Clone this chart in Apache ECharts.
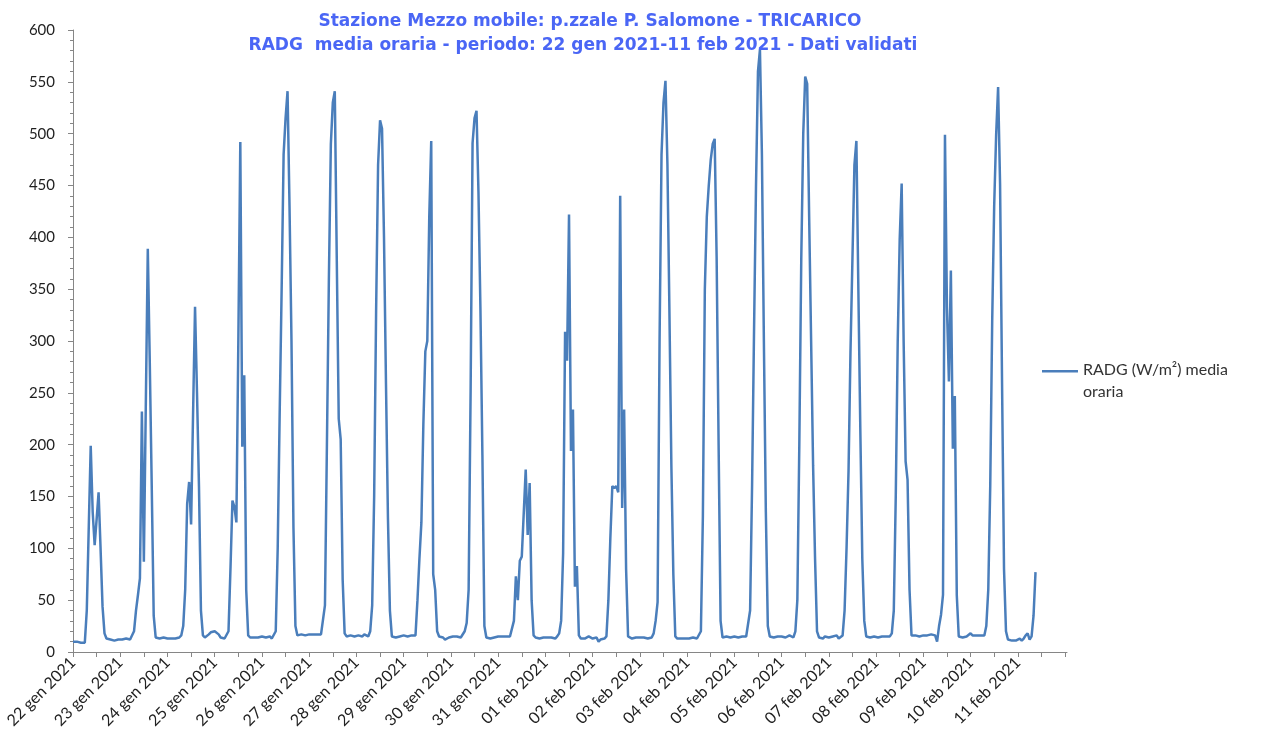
<!DOCTYPE html>
<html>
<head>
<meta charset="utf-8">
<script src="https://cdn.jsdelivr.net/npm/echarts@6/dist/echarts.min.js"></script>
<style>html,body{margin:0;padding:0;background:#fff}#c{width:1276px;height:738px}</style>
</head>
<body>
<div id="c"></div>
<script>
// Day labels (x axis ticks, one per day; data is hourly)
const dayLabels = ['22 gen 2021','23 gen 2021','24 gen 2021','25 gen 2021','26 gen 2021','27 gen 2021','28 gen 2021','29 gen 2021','30 gen 2021','31 gen 2021','01 feb 2021','02 feb 2021','03 feb 2021','04 feb 2021','05 feb 2021','06 feb 2021','07 feb 2021','08 feb 2021','09 feb 2021','10 feb 2021','11 feb 2021','12 feb 2021'];
const hourCount = 506; // hourly slots on the category axis (22 gen 00:00 .. 12 feb 01:00)

// Hourly RADG values (W/m2), hours 00..23 of each day
const gen22 = [10,10,10,9,9,9,9,40,120,199,135,103,128,154,100,44,18,13,13,12,12,11,12,12];
const gen23 = [12,12,12,13,13,12,12,20,40,55,71,232,87,240,389,280,160,35,14,13,13,13,14,14];
const gen24 = [13,13,13,13,13,13,14,16,25,60,143,164,123,230,333,250,160,40,16,14,15,17,19,20];
const gen25 = [20,19,17,14,13,13,14,20,80,146,140,125,300,492,198,267,60,16,14,15,14,15,14,14];
const gen26 = [15,15,14,15,15,13,14,20,100,230,350,480,515,541,430,300,120,25,16,17,17,16,16,17];
const gen27 = [17,17,17,16,17,17,17,18,45,200,360,490,530,541,380,225,205,70,18,15,15,16,15,15];
const gen28 = [16,16,16,15,17,16,15,20,45,150,330,470,513,505,400,260,130,40,15,14,14,15,15,15];
const gen29 = [16,16,15,16,16,15,16,50,90,125,220,290,300,420,493,75,60,20,15,15,14,12,11,14];
const gen30 = [15,15,14,15,15,14,15,20,28,60,250,491,515,522,443,330,190,25,14,13,13,14,14,15];
const gen31 = [15,15,15,15,15,15,15,16,30,73,50,88,92,92,176,113,163,50,16,14,13,13,14,14];
const feb01 = [14,14,15,14,14,13,15,18,30,95,309,281,422,194,234,63,83,16,13,12,13,14,15,15];
const feb02 = [13,13,14,10,12,12,13,15,50,110,160,158,160,154,440,139,234,80,15,14,13,13,14,14];
const feb03 = [14,13,14,14,13,13,14,18,30,48,300,480,530,551,470,330,180,75,15,13,12,13,14,13];
const feb04 = [14,13,13,14,13,13,14,20,130,350,420,450,475,490,495,380,200,30,14,14,15,15,14,14];
const feb05 = [15,14,14,15,15,14,15,16,40,160,310,450,560,581,480,300,135,25,15,15,14,14,15,15];
const feb06 = [15,15,14,15,16,15,14,20,50,200,380,500,555,548,420,300,180,90,20,14,14,13,15,14];
const feb07 = [14,15,15,14,16,13,12,16,40,100,174,290,380,470,493,350,214,90,30,15,15,14,15,15];
const feb08 = [14,14,14,15,14,15,15,15,18,40,150,300,398,452,300,184,166,60,16,15,16,15,15,16];
const feb09 = [16,16,16,16,17,16,16,10,25,36,55,499,333,261,368,196,247,55,15,14,14,14,15,16];
const feb10 = [18,16,16,16,16,16,16,16,25,60,160,320,430,499,545,451,260,80,20,12,12,11,12,11];
const feb11 = [12,13,11,13,16,18,12,15,35,77];

const seriesName = 'RADG (W/m²) media oraria';
const yTicks = { min: 0, max: 600, interval: 50 };

const values = [].concat(gen22,gen23,gen24,gen25,gen26,gen27,gen28,gen29,gen30,gen31,
  feb01,feb02,feb03,feb04,feb05,feb06,feb07,feb08,feb09,feb10,feb11);

const categories = [];
dayLabels.forEach(d => { for (let h = 0; h < 24; h++) categories.push(d + ' ' + String(h).padStart(2,'0') + ':00'); });
categories.length = hourCount;

const chart = echarts.init(document.getElementById('c'), null, { renderer: 'canvas' });
const axisColor = '#868686';
const labelFont = 'Lato, "Liberation Sans", sans-serif';
const titleStyle = { fontFamily: '"DejaVu Sans", Verdana, sans-serif', fontWeight: 'bold', fontSize: 17, color: '#4A66F5' };
chart.setOption({
  animation: false,
  backgroundColor: '#ffffff',
  title: [
    { text: 'Stazione Mezzo mobile: p.zzale P. Salomone - TRICARICO', left: 585, top: 8, textAlign: 'center', textStyle: titleStyle },
    { text: 'RADG  media oraria - periodo: 22 gen 2021-11 feb 2021 - Dati validati', left: 578, top: 32, textAlign: 'center', textStyle: titleStyle }
  ],
  legend: {
    left: 1042, top: 359, padding: 0,
    itemWidth: 36, itemHeight: 22, itemGap: 10,
    icon: 'path://M0,0 L36,0 L36,2.5 L0,2.5 Z M0,22 L0.01,22 L0,22.01 Z',
    itemStyle: { borderWidth: 0 },
    formatter: () => 'RADG (W/m²) media\noraria',
    textStyle: { fontFamily: labelFont, fontSize: 16, color: '#333', lineHeight: 22 },
    data: [seriesName]
  },
  grid: { left: 73, right: 209, top: 30, bottom: 86, containLabel: false },
  xAxis: {
    type: 'category',
    data: categories,
    boundaryGap: false,
    axisLine: { show: true, lineStyle: { color: axisColor, width: 1 } },
    axisTick: { show: true, interval: 11, length: 5, lineStyle: { color: axisColor } },
    axisLabel: {
      interval: 23, rotate: 45, margin: 8,
      formatter: v => (v.startsWith('12 feb') ? '' : v.slice(0, 11)),
      fontFamily: labelFont, fontSize: 16, color: '#222'
    },
    splitLine: { show: false }
  },
  yAxis: {
    type: 'value',
    min: yTicks.min, max: yTicks.max, interval: yTicks.interval,
    axisLine: { show: true, lineStyle: { color: axisColor, width: 1 } },
    axisTick: { show: true, length: 5, lineStyle: { color: axisColor } },
    minorTick: { show: true, splitNumber: 5, length: 3, lineStyle: { color: axisColor } },
    axisLabel: { margin: 18, fontFamily: labelFont, fontSize: 15, color: '#1F1F1F' },
    splitLine: { show: false }
  },
  series: [{
    name: seriesName,
    type: 'line',
    data: values,
    symbol: 'none',
    showSymbol: false,
    smooth: false,
    itemStyle: { color: '#4A7EBB' },
    lineStyle: { color: '#4A7EBB', width: 2.5 }
  }]
});
</script>
</body>
</html>
